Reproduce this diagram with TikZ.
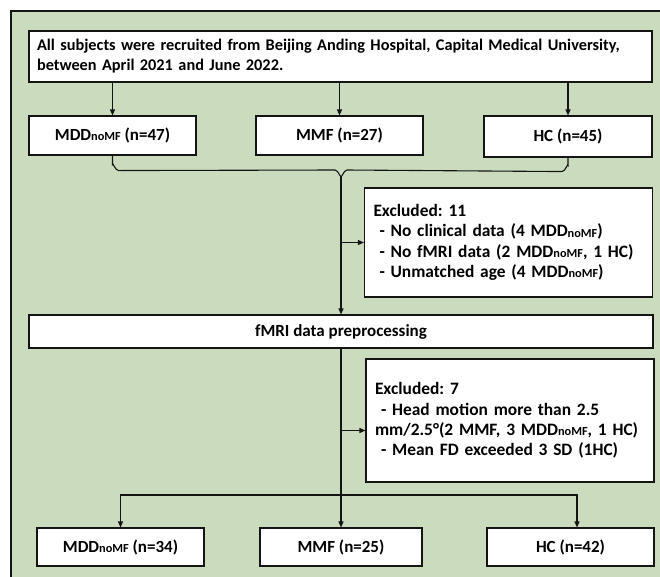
\documentclass[tikz,border=0pt]{standalone}
\usepackage{fontspec}
\setmainfont{Carlito}
\usepackage{tikz}
\usetikzlibrary{arrows.meta,positioning}
\definecolor{panelgreen}{RGB}{203,219,190}
\definecolor{inkblack}{RGB}{20,20,20}
\newcommand{\nomf}{\raisebox{-0.4pt}{\fontsize{12.3}{12}\selectfont noMF}}
\frenchspacing
\hyphenpenalty=10000

\begin{document}
\begin{tikzpicture}[x=1pt,y=-1pt,
  every node/.style={font=\fontsize{17}{20}\selectfont\bfseries},
  box/.style={draw=inkblack,line width=1.1pt,fill=white,inner sep=0pt,align=center},
  grp/.style={box,minimum width=167pt,minimum height=39pt},
  note/.style={box,align=left,inner xsep=9pt,text width=270pt,
               font=\fontsize{17.4}{20.3}\selectfont\bfseries},
  link/.style={draw=inkblack,line width=1.1pt},
  flow/.style={link,-{Triangle[length=6pt,width=5pt]}}
]
  \useasboundingbox (0,0) rectangle (660,576);
  \clip (0,0) rectangle (660,576);
  \fill[panelgreen,draw=inkblack,line width=1.1pt] (11,11) rectangle (680,600);

  \node[box,align=left,inner xsep=8pt,text width=607pt,minimum height=51pt,
        font=\fontsize{16.3}{20}\selectfont\bfseries] (top) at (340.5,56.5)
    {All subjects were recruited from Beijing Anding Hospital, Capital Medical University,\\
     between April 2021 and June 2022.};
  \node[grp] (mddA) at (112.5,135.5) {MDD\nomf\ (n=47)};
  \node[grp] (mmfA) at (339.5,135.5) {MMF (n=27)};
  \node[grp,minimum width=168pt,minimum height=41pt] (hcA) at (568,136.5) {HC (n=45)};

  \node[note,minimum height=109pt] (excl1) at (508.5,242.5)
    {Excluded: 11\\
     \hspace*{6pt}- No clinical data (4 MDD\nomf)\\
     \hspace*{6pt}- No fMRI data (2 MDD\nomf, 1 HC)\\
     \hspace*{6pt}- Unmatched age (4 MDD\nomf)};

  \node[box,minimum width=624pt,minimum height=33pt] (prep) at (341,331.5) {fMRI data preprocessing};

  \node[note,minimum height=123pt] (excl2) at (510,420.5)
    {Excluded: 7\\
     \hspace*{6pt}- Head motion more than 2.5\\
     mm/2.5\textdegree(2 MMF, 3 MDD\nomf, 1 HC)\\
     \hspace*{6pt}- Mean FD exceeded 3 SD (1HC)};

  \node[grp,minimum height=38pt] (mddB) at (120.5,547) {MDD\nomf\ (n=34)};
  \node[grp,minimum width=162pt,minimum height=38pt] (mmfB) at (341,547) {MMF (n=25)};
  \node[grp,minimum height=38pt] (hcB) at (570.5,547) {HC (n=42)};

  \draw[flow] (top.south -| mddA.north) -- (mddA.north);
  \draw[flow] (top.south -| mmfA.north) -- (mmfA.north);
  \draw[flow] (top.south -| hcA.north) -- (hcA.north);

  \coordinate (tip) at (341,176);
  \draw[link] (mddA.south) -- ++(0,9) to[out=90,in=180] ++(6,6) -- (335,170) to[out=0,in=-90] (tip);
  \draw[link] (hcA.south) -- ++(0,8) to[out=90,in=0] ++(-6,6) -- (347,170) to[out=180,in=-90] (tip);
  \draw[flow] (tip) -- (tip |- prep.north);
  \draw[flow] (tip |- excl1.west) -- (excl1.west);

  \coordinate (x2) at ([yshift=-10pt]excl2.west);
  \coordinate (split) at (prep.south |- 0,495);
  \draw[flow] (prep.south) -- (mmfB.north);
  \draw[flow] (prep.south |- x2) -- (x2);
  \draw[flow] (split) -| (mddB.north);
  \draw[flow] (split) -| ([xshift=6.5pt]hcB.north);
\end{tikzpicture}
\end{document}
